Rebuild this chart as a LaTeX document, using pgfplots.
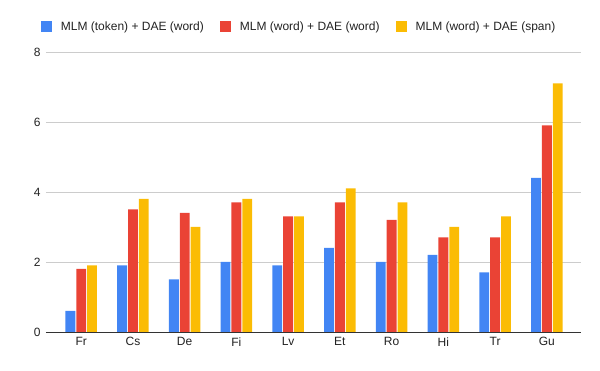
\documentclass[border=0pt]{standalone}
\usepackage{pgfplots}
\pgfplotsset{compat=1.18}
\usepackage{fontspec}
\setmainfont{Liberation Sans}
\definecolor{gblue}{HTML}{4285F4}
\definecolor{gred}{HTML}{EA4335}
\definecolor{gyellow}{HTML}{FBBC04}
\definecolor{ggrid}{HTML}{CCCCCC}
\definecolor{gaxis}{HTML}{333333}
\definecolor{gtext}{HTML}{222222}

\begin{document}
\begin{tikzpicture}
\begin{axis}[
  name=main, anchor=south west,
  scale only axis, width=535pt, height=280pt,
  ymin=0, ymax=8, ytick={0,2,4,6,8},
  xmin=-0.68, xmax=9.66,
  xtick={0,...,9}, xticklabels={Fr,Cs,De,Fi,Lv,Et,Ro,Hi,Tr,Gu},
  axis x line*=bottom, axis y line*=left,
  y axis line style={draw=none},
  x axis line style={gaxis,-},
  major tick length=0pt,
  ymajorgrids, grid style={ggrid, line width=0.8pt},
  ybar=1pt, bar width=0.19,
  tick label style={font=\fontsize{12}{14}\selectfont, text=gtext},
  yticklabel style={xshift=-2pt},
  xticklabel style={yshift=-2pt},
  /pgf/number format/assume math mode=true,
  legend columns=3,
  legend style={at={(-0.009,1.09)}, anchor=west, draw=none, fill=none,
    inner sep=0pt, font=\fontsize{12}{14}\selectfont, text=gtext,
    /tikz/every odd column/.append style={column sep=6.5pt},
    /tikz/every even column/.append style={column sep=14.5pt}},
  legend image code/.code={\fill[#1] (0pt,-5.5pt) rectangle (11pt,5.5pt);},
]
\addplot[fill=gblue, draw=none] coordinates {(0,0.6)(1,1.9)(2,1.5)(3,2.0)(4,1.9)(5,2.4)(6,2.0)(7,2.2)(8,1.7)(9,4.4)};
\addplot[fill=gred, draw=none] coordinates {(0,1.8)(1,3.5)(2,3.4)(3,3.7)(4,3.3)(5,3.7)(6,3.2)(7,2.7)(8,2.7)(9,5.9)};
\addplot[fill=gyellow, draw=none] coordinates {(0,1.9)(1,3.8)(2,3.0)(3,3.8)(4,3.3)(5,4.1)(6,3.7)(7,3.0)(8,3.3)(9,7.1)};
\legend{MLM (token) + DAE (word), MLM (word) + DAE (word), MLM (word) + DAE (span)}
\end{axis}
\path[use as bounding box] ([shift={(-46pt,-39pt)}]main.south west) rectangle ([shift={(19pt,52pt)}]main.north east);
\end{tikzpicture}
\end{document}
